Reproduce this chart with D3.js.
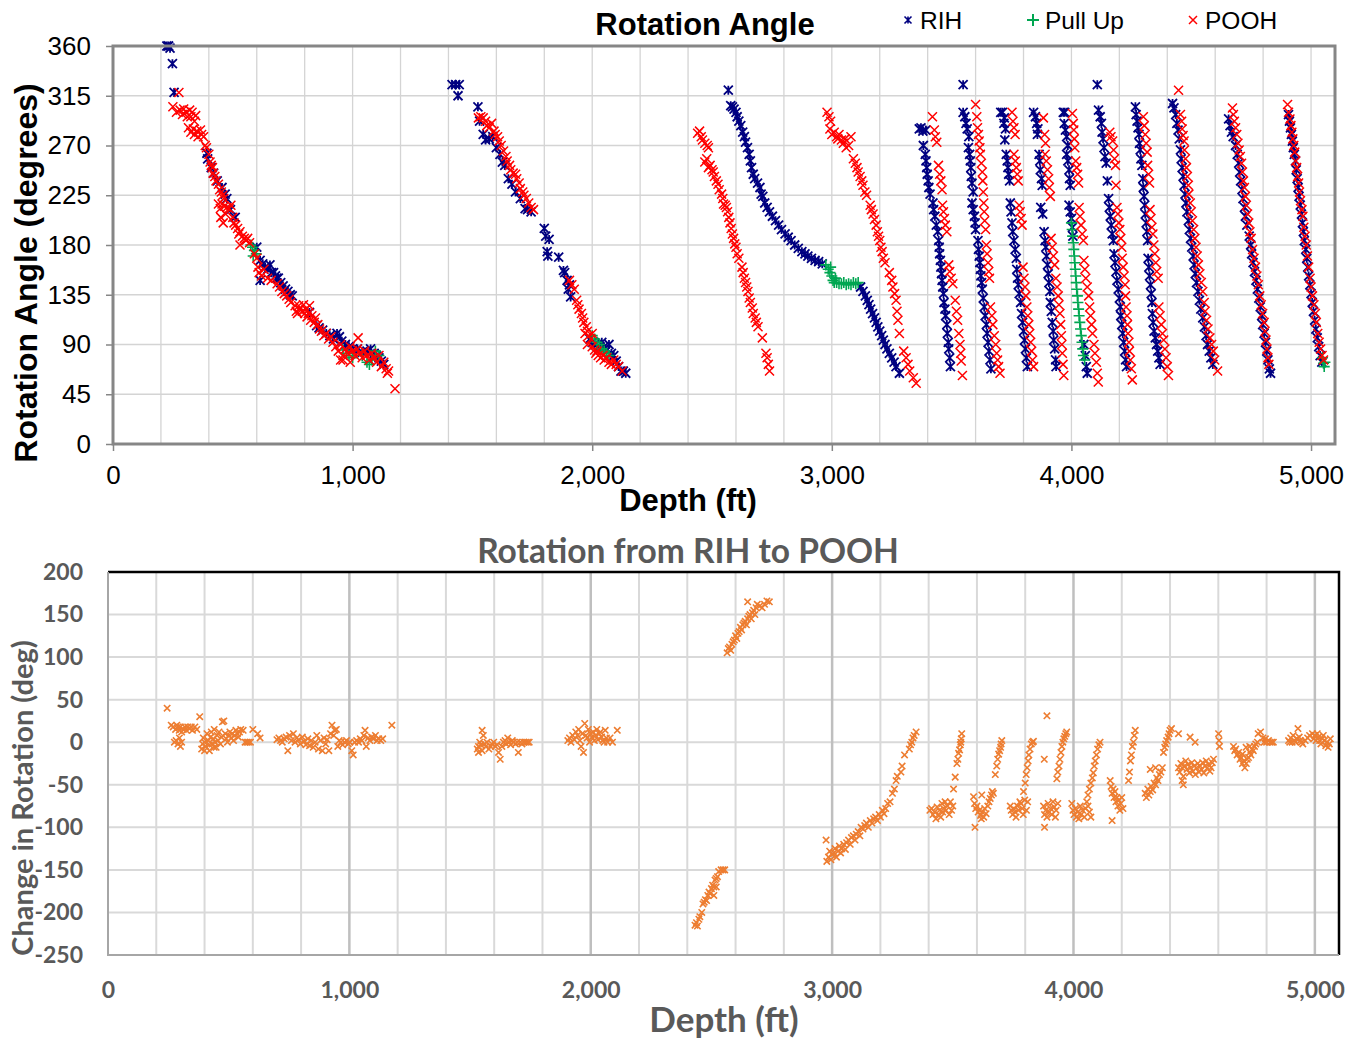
<!DOCTYPE html>
<html>
<head>
<meta charset="utf-8">
<script src="https://cdn.jsdelivr.net/npm/d3@7"></script>
<style>
  body { margin: 0; background: #fff; }
  svg { display: block; }
</style>
</head>
<body>
<svg id="my_svg"></svg>
<script>
const width = 1361;
const height = 1040;

// ---------- top chart: rotation angle (depth ft, angle deg) ----------
const depthTicks = [0, 1000, 2000, 3000, 4000, 5000];
const angleTicks = [0, 45, 90, 135, 180, 225, 270, 315, 360];
const changeTicks = [-250, -200, -150, -100, -50, 0, 50, 100, 150, 200];

const rihFirst = [
  [225,360],[232,360],[238,358],[248,344],[255,318],
  [392,263],[395,258],[410,250],[420,245],[435,238],[455,232],[468,226],[475,222],[490,212],[510,205],
  [600,178],[614,166],[625,163],[635,160],[645,158],[655,162],[662,155],[670,155],[678,152],[684,150],
  [690,150],[700,146],[710,143],[720,140],[730,138],[740,135],[748,134],[614,148],
  [820,119],[850,107],[860,105],[875,103],[890,100],[905,98],[920,95],[935,100],[945,97],[955,93],
  [970,90],[985,88],[1000,86],[1020,86],[1040,83],[1060,84],[1075,86],[1090,82],[1100,80],[1110,78],
  [1120,75],[1130,72]
];
const rihSecond = [
  [1415,325],[1430,325],[1445,325],[1440,315],[1523,305],[1530,292],[1545,280],[1555,275],[1570,276],
  [1585,278],[1600,268],[1615,262],[1625,255],[1635,252],[1650,240],[1665,235],[1680,228],[1700,222],
  [1720,213],[1730,212],[1745,210],[1800,195],[1806,188],[1820,185],[1812,174],[1815,170],[1860,169],
  [1880,157],[1885,155],[1895,148],[1905,144],[1900,140],[1910,133],[1990,95],[2000,92],[2010,90],
  [2030,88],[2040,92],[2050,88],[2060,85],[2070,90],[2080,82],[2090,80],[2100,75],[2110,70],[2120,66],
  [2130,66],[2140,64]
];
const rihThird = [
  [2568,320],[2578,306],[2585,305],[2592,303],[2600,300],[2605,296],[2612,292],[2620,288],[2628,282],
  [2635,278],[2640,273],[2648,268],[2655,262],[2660,256],[2665,250],[2672,244],[2678,240],[2690,236],
  [2700,232],[2705,226],[2712,224],[2720,218],[2730,214],[2740,210],[2752,206],[2765,202],[2778,198],
  [2790,194],[2805,190],[2818,187],[2830,184],[2845,180],[2860,177],[2875,174],[2888,172],[2900,170],
  [2915,168],[2930,166],[2945,165],[2960,163],[3120,142],[3130,138],[3140,134],[3148,130],[3155,126],
  [3162,122],[3170,118],[3178,114],[3185,110],[3192,106],[3200,102],[3208,98],[3215,94],[3222,90],
  [3230,86],[3240,82],[3250,78],[3260,74],[3268,70],[3282,64]
];
const rihCycles = [
  [3365,285],[3372,286],[3380,283],[3392,284],[3382,270],[3390,262],[3393,256],[3396,250],[3398,244],
  [3402,238],[3405,232],[3410,226],[3422,218],[3425,212],[3430,206],[3436,198],[3442,192],[3446,184],
  [3448,178],[3450,172],[3453,166],[3455,160],[3458,154],[3460,148],[3463,142],[3466,136],[3468,128],
  [3472,122],[3475,116],[3480,108],[3482,100],[3486,92],[3488,86],[3492,78],[3495,70],
  [3548,325],[4108,325],
  [3548,300],[3555,296],[3560,290],[3565,285],[3572,278],[3570,268],[3575,262],[3578,256],[3580,250],
  [3582,242],[3585,236],[3590,228],[3585,218],[3590,212],[3595,206],[3598,200],[3600,194],[3610,184],
  [3612,176],[3615,170],[3618,164],[3620,158],[3622,152],[3625,146],[3628,140],[3632,132],[3636,124],
  [3640,116],[3645,108],[3648,100],[3652,92],[3656,84],[3660,76],[3664,68],
  [3705,300],[3712,300],[3720,295],[3718,290],[3725,285],[3722,275],[3728,262],[3732,256],[3735,250],
  [3738,244],[3742,238],[3745,218],[3748,210],[3752,200],[3755,192],[3760,184],[3765,176],[3770,168],
  [3772,158],[3775,150],[3778,144],[3782,136],[3788,128],[3792,118],[3796,110],[3800,102],[3804,94],
  [3808,86],[3812,78],[3816,70],
  [3842,300],[3850,296],[3855,290],[3860,285],[3858,280],[3865,262],[3868,256],[3870,248],[3875,240],
  [3878,234],[3872,214],[3880,208],[3886,192],[3890,184],[3893,178],[3896,170],[3900,162],[3903,154],
  [3906,146],[3910,138],[3912,128],[3916,120],[3920,110],[3924,102],[3926,94],[3930,86],[3934,76],
  [3936,70],
  [3966,300],[3972,300],[3970,290],[3975,284],[3980,278],[3985,270],[3980,262],[3985,256],[3990,248],
  [3992,240],[3995,234],[3990,216],[3995,210],[4000,204],[4004,196],[4006,188],[4052,90],[4058,80],
  [4062,70],[4066,64],
  [4113,302],[4120,296],[4125,290],[4128,282],[4132,276],[4136,268],[4140,260],[4145,254],[4150,238],
  [4155,222],[4158,214],[4162,206],[4166,198],[4170,190],[4175,184],[4178,172],[4182,164],[4186,156],
  [4190,148],[4195,140],[4200,132],[4204,124],[4206,116],[4210,108],[4214,100],[4218,92],[4222,84],
  [4226,76],[4230,70],
  [4267,305],[4270,298],[4274,292],[4278,286],[4282,280],[4284,272],[4287,266],[4290,258],[4294,252],
  [4298,240],[4300,232],[4303,224],[4306,216],[4308,208],[4312,200],[4315,192],[4318,184],[4320,168],
  [4323,160],[4326,152],[4330,144],[4333,136],[4336,128],[4338,118],[4341,110],[4345,102],[4350,96],
  [4355,90],[4360,84],[4365,78],[4370,72],
  [4422,308],[4428,304],[4435,298],[4440,290],[4445,284],[4450,276],[4455,266],[4458,258],[4462,250],
  [4466,242],[4470,234],[4474,226],[4478,218],[4482,210],[4488,202],[4492,194],[4497,186],[4502,178],
  [4508,170],[4512,162],[4517,154],[4522,146],[4528,138],[4534,130],[4540,122],[4548,114],[4555,106],
  [4562,98],[4568,90],[4575,84],[4582,78],[4590,72],
  [4656,294],[4662,288],[4668,282],[4675,278],[4685,270],[4692,262],[4698,254],[4702,246],[4706,238],
  [4712,230],[4716,222],[4722,214],[4726,206],[4732,198],[4742,188],[4748,180],[4752,172],[4758,164],
  [4764,156],[4770,148],[4776,140],[4782,132],[4788,124],[4794,116],[4798,108],[4804,100],[4810,92],
  [4815,84],[4820,76],[4826,68],[4831,64],
  [4906,298],[4910,292],[4914,286],[4918,280],[4922,274],[4926,268],[4930,262],[4935,256],[4938,248],
  [4942,240],[4946,232],[4950,224],[4955,216],[4960,208],[4964,200],[4968,192],[4972,184],[4978,176],
  [4982,168],[4986,160],[4990,152],[4995,144],[5000,136],[5005,128],[5010,120],[5015,112],[5020,104],
  [5026,96],[5032,88],[5038,80],[5045,74]
];

const pullUpPoints = [
  [575,180],[582,178],[590,175],[598,172],[585,170],[960,85],[975,82],[985,80],[1000,78],[1040,80],
  [1060,74],[1070,72],[1080,76],[1095,84],[1110,80],
  [2000,98],[2010,95],[2020,92],[2030,90],[2040,86],[2050,84],[2060,82],[2070,80],
  [2975,162],[2985,158],[2992,155],[3000,152],[3005,148],[3010,146],[3020,146],[3030,145],[3040,145],
  [3050,146],[3060,144],[3070,145],[3080,144],[3090,146],[3100,145],[3110,146],[2995,160],[3015,150],
  [4000,200],[4003,194],[4005,188],[4008,182],[4010,176],[4012,170],[4014,164],[4016,158],[4018,152],
  [4020,146],[4022,140],[4025,134],[4027,128],[4030,122],[4032,116],[4035,110],[4038,104],[4041,98],
  [4044,92],[4047,86],[4050,80],[4055,76],
  [5048,78],[5052,73],[5055,70],[5058,74]
];

const poohFirst = [
  [250,305],[275,318],[265,300],[280,302],[290,298],[295,303],[305,300],[310,296],[320,302],[325,296],
  [330,300],[340,292],[345,297],[315,286],[325,282],[335,285],[340,280],[350,283],[355,278],[365,284],
  [370,280],[378,278],[385,270],[390,268],[400,262],[405,255],[410,252],[415,250],[418,245],[425,242],
  [430,238],[440,235],[445,230],[452,228],[458,225],[462,222],[440,217],[448,213],[455,217],[465,215],
  [475,214],[485,213],[492,216],[450,205],[460,200],[470,208],[500,205],[505,200],[512,198],[520,195],
  [525,190],[530,192],[540,188],[548,186],[555,184],[562,186],[570,182],[530,180],[590,172],[600,168],
  [605,160],[610,155],[620,152],[630,158],[645,150],[660,148],[685,145],[695,142],[705,138],[715,136],
  [725,134],[735,131],[742,128],[760,125],[765,120],[770,118],[775,125],[780,122],[790,120],[795,126],
  [800,118],[805,122],[810,115],[815,118],[820,125],[825,112],[830,116],[840,110],[845,114],[855,108],
  [862,104],[870,102],[880,98],[890,100],[900,95],[910,97],[918,92],[930,88],[940,84],[950,90],
  [960,80],[970,86],[980,82],[990,88],[1000,84],[1010,80],[1020,86],[1030,82],[1040,78],[1050,84],
  [1060,80],[1070,76],[1080,82],[1090,78],[1100,74],[1110,80],[1120,70],[1130,74],[1140,68],[1145,64],
  [1150,66],[1023,96],[1177,50],[950,76],[960,76],[990,74]
];
const poohSecond = [
  [1525,295],[1535,296],[1545,295],[1555,292],[1560,288],[1570,286],[1580,290],[1590,283],[1595,280],
  [1605,278],[1612,274],[1620,270],[1630,265],[1640,260],[1645,256],[1655,252],[1660,248],[1670,245],
  [1680,244],[1685,240],[1695,236],[1700,231],[1710,228],[1715,225],[1725,222],[1735,218],[1745,214],
  [1755,212],[1905,148],[1915,144],[1925,140],[1935,130],[1940,126],[1945,122],[1955,118],[1960,114],
  [1965,110],[1975,106],[1980,102],[1985,98],[1995,95],[1980,90],[2000,88],[2010,85],[2015,82],
  [2020,84],[2025,80],[2035,78],[2045,80],[2050,76],[2060,78],[2070,74],[2080,72],[2090,76],[2100,72],
  [2110,70],[2125,66],[2000,100],[1970,100]
];
const poohThird = [
  [2440,281],[2448,283],[2455,278],[2460,275],[2470,272],[2480,270],[2485,268],[2470,255],[2478,258],
  [2485,250],[2492,252],[2500,248],[2505,246],[2510,242],[2518,238],[2525,235],[2530,230],[2540,226],
  [2545,222],[2548,217],[2555,216],[2560,214],[2565,210],[2570,205],[2575,200],[2580,195],[2585,190],
  [2590,186],[2595,181],[2600,178],[2605,172],[2612,168],[2625,160],[2630,155],[2635,150],[2640,146],
  [2645,142],[2650,138],[2655,132],[2660,128],[2668,123],[2672,118],[2680,114],[2685,110],[2692,106],
  [2710,96],[2725,82],[2730,78],[2735,72],[2740,66],
  [2980,300],[2988,296],[2995,292],[2992,285],[3000,280],[3010,282],[3020,278],[3025,276],[3030,280],
  [3040,275],[3048,272],[3055,276],[3060,268],[3070,270],[3080,278],[3090,258],[3098,254],[3105,250],
  [3110,246],[3118,242],[3125,238],[3130,234],[3138,228],[3145,225],[3160,216],[3165,212],[3172,208],
  [3178,203],[3185,198],[3190,192],[3195,188],[3200,184],[3205,178],[3210,174],[3215,168],[3222,164],
  [3240,155],[3250,148],[3255,142],[3262,136],[3268,130],[3272,120],[3276,112],[3282,100],[3300,84],
  [3310,78],[3318,72],[3325,66],[3340,60],[3352,55]
];
const poohCycles = [
  [3420,296],[3428,284],[3432,278],[3438,273],[3445,252],[3450,244],[3455,238],[3460,230],[3462,216],
  [3466,210],[3470,204],[3474,198],[3480,192],[3488,162],[3492,156],[3498,150],[3505,145],[3515,130],
  [3520,120],[3525,112],[3530,100],[3535,90],[3538,82],[3540,75],[3545,62],
  [3600,307],[3605,296],[3608,286],[3612,280],[3615,274],[3618,268],[3620,262],[3624,254],[3628,246],
  [3630,238],[3632,228],[3634,218],[3636,210],[3638,202],[3642,194],[3645,180],[3648,172],[3652,164],
  [3655,156],[3658,150],[3662,124],[3668,116],[3672,108],[3678,98],[3684,90],[3688,82],[3692,76],
  [3696,70],[3702,64],
  [3752,300],[3756,292],[3760,286],[3765,280],[3760,262],[3766,256],[3770,250],[3774,244],[3778,238],
  [3782,216],[3786,210],[3790,204],[3794,198],[3798,160],[3802,150],[3806,142],[3810,134],[3814,124],
  [3818,116],[3822,108],[3826,100],[3830,92],[3834,84],[3838,76],[3842,70],
  [3883,295],[3888,280],[3892,272],[3890,262],[3895,256],[3900,248],[3905,240],[3908,232],[3912,224],
  [3915,186],[3920,178],[3925,170],[3930,162],[3935,150],[3940,142],[3945,134],[3948,126],[3952,118],
  [3955,108],[3958,98],[3960,90],[3962,82],[3965,72],[3968,62],
  [4004,299],[4008,290],[4010,284],[4012,276],[4014,268],[4018,256],[4022,250],[4026,244],[4030,236],
  [4032,214],[4036,206],[4040,198],[4045,190],[4050,184],[4052,166],[4056,158],[4060,150],[4066,142],
  [4072,134],[4076,124],[4080,116],[4084,108],[4088,100],[4094,90],[4098,82],[4104,74],[4108,64],
  [4112,56],
  [4160,282],[4165,278],[4172,274],[4176,266],[4180,258],[4184,252],[4186,234],[4190,214],[4194,208],
  [4198,200],[4202,194],[4206,186],[4210,178],[4212,168],[4216,160],[4220,152],[4224,144],[4226,134],
  [4228,124],[4232,116],[4234,108],[4236,100],[4240,92],[4242,84],[4246,76],[4250,68],[4254,58],
  [4300,296],[4304,288],[4308,280],[4312,272],[4316,264],[4318,252],[4322,244],[4326,236],[4328,212],
  [4332,204],[4336,196],[4340,190],[4344,180],[4348,172],[4352,164],[4356,156],[4362,150],[4365,124],
  [4370,116],[4375,108],[4380,100],[4385,94],[4390,86],[4395,78],[4400,70],[4405,62],
  [4447,320],[4455,298],[4460,292],[4462,285],[4466,279],[4470,274],[4472,266],[4476,258],[4480,250],
  [4484,242],[4488,234],[4490,226],[4496,218],[4500,210],[4505,202],[4510,194],[4515,186],[4520,178],
  [4525,170],[4530,162],[4536,154],[4542,146],[4548,138],[4554,128],[4558,120],[4564,112],[4570,104],
  [4578,96],[4585,90],[4592,84],[4598,76],[4610,66],
  [4672,304],[4676,298],[4680,292],[4685,286],[4690,280],[4695,272],[4700,266],[4705,260],[4710,254],
  [4714,246],[4718,238],[4722,232],[4726,224],[4730,216],[4735,208],[4740,200],[4745,192],[4750,186],
  [4756,176],[4762,168],[4768,160],[4774,152],[4780,144],[4786,134],[4792,126],[4798,118],[4804,110],
  [4808,102],[4812,94],[4816,86],[4820,78],[4824,72],
  [4902,307],[4906,300],[4912,294],[4916,288],[4920,282],[4924,276],[4928,270],[4932,264],[4936,256],
  [4940,250],[4944,242],[4948,236],[4952,228],[4956,220],[4962,212],[4966,206],[4970,196],[4975,188],
  [4980,180],[4985,170],[4990,160],[4996,150],[5000,142],[5006,134],[5012,126],[5018,118],[5022,110],
  [5028,100],[5034,92],[5040,86],[5046,80],[5052,76]
];

// ---------- bottom chart: change in rotation (depth ft, deg) ----------
const changeShallow = [
  [245,40],[262,20],[270,18],[280,15],[285,20],[290,18],[295,14],[300,18],[305,12],[312,15],[318,18],
  [325,14],[330,18],[338,16],[345,18],[350,14],[360,18],[368,15],[380,30],[275,0],[282,2],[290,-2],
  [296,5],[300,-5],[305,0],[388,-8],[392,-2],[395,5],[400,0],[405,-5],[410,10],[415,2],[420,-3],
  [425,6],[428,12],[432,-2],[436,4],[440,15],[444,0],[448,-6],[452,8],[456,2],[460,12],[466,-2],
  [470,6],[474,24],[480,25],[486,10],[490,4],[495,0],[500,8],[505,12],[510,5],[515,10],[520,2],
  [525,8],[530,14],[536,10],[540,6],[545,12],[550,15],[560,14],[568,0],[575,0],[582,0],[590,0],
  [600,15],[620,10],[630,5],[420,-10],[400,-10],[440,-6],
  [700,3],[708,5],[715,2],[722,0],[730,4],[738,6],[745,-10],[752,8],[760,2],[768,10],[775,0],[782,5],
  [790,3],[797,-2],[805,6],[812,1],[820,-3],[828,4],[835,-4],[842,2],[850,-6],[858,0],[865,8],[872,-8],
  [880,2],[888,-10],[895,5],[902,-2],[908,3],[915,-10],[922,10],[928,20],[935,8],[940,14],[946,15],
  [952,-5],[958,2],[965,0],[972,-3],[980,0],[988,2],[995,-2],[1002,0],[1010,-10],[1016,-15],[1022,0],
  [1030,2],[1038,0],[1045,4],[1052,2],[1060,8],[1065,14],[1070,-5],[1078,5],[1085,2],[1092,6],[1100,4],
  [1108,8],[1115,2],[1122,4],[1130,2],[1138,4],[1176,20]
];
const changeMiddle = [
  [1530,-8],[1535,-5],[1540,0],[1545,-3],[1550,14],[1555,8],[1560,-2],[1565,-5],[1570,0],[1578,-8],
  [1585,-5],[1590,-2],[1598,0],[1605,-5],[1612,-3],[1618,-12],[1625,-20],[1632,-5],[1638,0],[1645,2],
  [1650,-2],[1656,5],[1662,0],[1668,-3],[1675,2],[1680,0],[1688,-2],[1695,0],[1700,-12],[1708,0],
  [1715,-2],[1722,0],[1730,0],[1738,0],[1745,0],[1535,-12],[1550,-10],
  [1905,2],[1912,5],[1918,0],[1925,8],[1932,3],[1938,12],[1945,8],[1950,15],[1955,2],[1960,-5],
  [1965,10],[1970,-12],[1975,22],[1980,8],[1985,5],[1990,15],[1995,0],[2000,10],[2005,6],[2010,12],
  [2015,2],[2020,8],[2025,15],[2030,3],[2035,10],[2040,12],[2045,6],[2050,2],[2055,0],[2060,14],
  [2065,5],[2070,0],[2080,5],[2090,0],[2110,14],
  [2432,-215],[2438,-212],[2442,-216],[2448,-208],[2452,-205],[2460,-200],[2465,-190],[2470,-188],
  [2475,-185],[2480,-186],[2485,-180],[2490,-176],[2495,-178],[2500,-172],[2505,-168],[2510,-170],
  [2515,-162],[2520,-160],[2525,-158],[2530,-152],[2540,-150],[2548,-150],[2555,-150],[2520,-170],
  [2510,-180],
  [2565,105],[2570,110],[2575,112],[2580,108],[2585,115],[2590,118],[2595,120],[2600,125],[2605,122],
  [2610,128],[2615,130],[2620,135],[2625,132],[2630,138],[2635,140],[2640,142],[2645,138],[2650,145],
  [2655,148],[2660,150],[2665,145],[2670,152],[2675,155],[2680,150],[2685,158],[2690,162],[2700,160],
  [2710,158],[2720,162],[2730,166],[2740,165],[2650,165]
];
const changeDeep = [
  [2975,-115],[2978,-140],[2985,-135],[2990,-128],[2995,-138],[3000,-132],[3008,-130],[3012,-125],
  [3018,-135],[3025,-128],[3030,-122],[3035,-130],[3040,-125],[3048,-120],[3055,-126],[3060,-118],
  [3068,-115],[3075,-120],[3080,-112],[3088,-110],[3095,-115],[3100,-108],[3108,-105],[3115,-110],
  [3120,-100],[3128,-102],[3135,-98],[3142,-95],[3150,-100],[3158,-92],[3165,-95],[3172,-90],
  [3180,-88],[3188,-92],[3195,-85],[3200,-88],[3208,-80],[3215,-84],[3222,-78],[3230,-72],[3240,-70],
  [3250,-60],[3258,-55],[3265,-45],[3270,-40],[3285,-35],[3290,-28],[3300,-15],[3320,-8],[3325,-3],
  [3330,0],[3335,5],[3340,8],[3348,12],
  [3405,-80],[3412,-78],[3418,-85],[3425,-82],[3430,-90],[3435,-76],[3440,-85],[3445,-80],[3450,-88],
  [3455,-72],[3458,-82],[3462,-78],[3468,-70],[3472,-80],[3478,-75],[3485,-85],[3490,-70],[3495,-80],
  [3500,-75],[3503,-55],[3510,-41],[3517,-25],[3521,-20],[3524,-13],[3528,-9],[3531,-3],[3533,0],
  [3535,4],[3537,10],
  [3586,-64],[3590,-72],[3595,-78],[3600,-75],[3605,-82],[3610,-80],[3615,-86],[3618,-90],[3622,-82],
  [3628,-88],[3632,-78],[3638,-84],[3645,-75],[3650,-70],[3655,-66],[3660,-62],[3664,-58],[3668,-60],
  [3592,-100],[3620,-62],[3676,-38],[3682,-28],[3686,-20],[3690,-14],[3694,-10],[3698,-6],[3700,-2],
  [3703,2],
  [3738,-75],[3742,-80],[3748,-85],[3752,-78],[3758,-82],[3762,-88],[3768,-75],[3772,-80],[3778,-70],
  [3782,-72],[3788,-78],[3792,-85],[3798,-68],[3805,-80],[3810,-70],[3793,-58],[3800,-48],[3804,-38],
  [3808,-30],[3812,-22],[3815,-15],[3820,-8],[3825,-2],[3830,0],[3834,1],[3879,-20],[3890,31],
  [3876,-75],[3880,-85],[3885,-80],[3890,-88],[3895,-72],[3900,-82],[3905,-78],[3910,-85],[3915,-70],
  [3920,-76],[3928,-80],[3935,-72],[3880,-100],[3925,-88],[3931,-43],[3935,-35],[3940,-28],[3944,-20],
  [3948,-12],[3952,-5],[3956,0],[3960,4],[3964,7],[3968,10],[3972,12],
  [3993,-72],[3998,-80],[4002,-85],[4008,-78],[4012,-88],[4018,-82],[4022,-90],[4028,-75],[4032,-85],
  [4038,-80],[4045,-88],[4050,-78],[4055,-70],[4060,-75],[4066,-82],[4072,-88],[4060,-62],[4066,-55],
  [4072,-48],[4078,-42],[4082,-36],[4086,-28],[4090,-22],[4095,-15],[4100,-8],[4105,-3],[4110,0],
  [4152,-45],[4156,-52],[4160,-60],[4164,-55],[4168,-65],[4172,-58],[4176,-70],[4180,-65],[4184,-75],
  [4188,-68],[4192,-80],[4196,-72],[4200,-65],[4160,-92],[4205,-78],[4228,-45],[4232,-35],[4236,-22],
  [4240,-15],[4244,-5],[4248,0],[4252,8],[4256,14],
  [4297,-60],[4302,-65],[4308,-55],[4312,-62],[4318,-58],[4322,-52],[4328,-56],[4334,-48],[4340,-50],
  [4345,-42],[4350,-45],[4356,-38],[4362,-35],[4318,-32],[4340,-30],[4368,-30],[4373,-12],[4378,-6],
  [4382,-2],[4386,2],[4392,6],[4396,10],[4400,14],[4406,16],[4435,10],[4483,6],[4504,0],
  [4435,-30],[4440,-35],[4445,-25],[4450,-30],[4455,-40],[4460,-28],[4465,-22],[4470,-32],[4475,-26],
  [4480,-36],[4485,-30],[4490,-24],[4495,-34],[4500,-28],[4505,-38],[4510,-30],[4515,-25],[4520,-35],
  [4525,-28],[4530,-32],[4535,-24],[4540,-36],[4545,-28],[4550,-22],[4555,-30],[4560,-26],[4565,-34],
  [4570,-30],[4575,-24],[4580,-20],[4455,-50],[4450,-45],[4601,10],[4603,2],[4605,-5],
  [4663,-5],[4668,-10],[4672,-8],[4678,-15],[4684,-12],[4690,-20],[4695,-18],[4700,-25],[4705,-22],
  [4710,-30],[4716,-25],[4720,-20],[4725,-18],[4730,-12],[4735,-15],[4740,-8],[4745,-10],[4750,-5],
  [4755,-2],[4762,0],[4700,-14],[4715,-6],[4730,-5],[4765,10],[4775,12],[4785,5],[4790,0],[4795,4],
  [4800,0],[4808,2],[4815,0],[4822,0],[4828,0],
  [4891,2],[4896,0],[4900,5],[4906,0],[4910,8],[4915,2],[4920,0],[4925,4],[4930,16],[4935,6],
  [4940,2],[4945,0],[4950,-2],[4960,2],[4970,5],[4978,8],[4990,10],[4995,4],[5000,8],[5005,2],
  [5010,10],[5015,6],[5020,2],[5025,-2],[5030,4],[5035,8],[5040,2],[5045,-4],[5050,0],[5055,-6],
  [5060,-2],[5064,4]
];

const rih = rihFirst.concat(rihSecond, rihThird, rihCycles);
const pooh = poohFirst.concat(poohSecond, poohThird, poohCycles);
const change = changeShallow.concat(changeMiddle, changeDeep);

const svg = d3.select('#my_svg')
    .attr('width', width)
    .attr('height', height);

// marker shapes
const crossPath = s => `M${-s},${-s}L${s},${s}M${-s},${s}L${s},${-s}`;
const starPath = s => crossPath(s) + `M0,${-s}V${s}`;
const plusPath = s => `M${-s},0H${s}M0,${-s}V${s}`;

// ================= top chart =================
const topFont = '"Liberation Sans", Arial, sans-serif';
const x1 = d3.scaleLinear().domain([0, 5100]).range([113, 1335]);
const y1 = d3.scaleLinear().domain([0, 360]).range([444, 46]);

const top_g = svg.append('g').attr('id', 'top_g');

top_g.append('g').selectAll('line')
    .data(d3.range(200, 5100, 200))
    .enter().append('line')
    .attr('x1', d => x1(d)).attr('x2', d => x1(d))
    .attr('y1', y1(0)).attr('y2', y1(360))
    .attr('stroke', '#d4d4d4').attr('stroke-width', 1.3);

top_g.append('g').selectAll('line')
    .data(angleTicks.slice(1, -1))
    .enter().append('line')
    .attr('x1', x1(0)).attr('x2', x1(5100))
    .attr('y1', d => y1(d)).attr('y2', d => y1(d))
    .attr('stroke', '#d4d4d4').attr('stroke-width', 1.3);

function drawSeries(g, data, path, color, sx, sy, sw) {
    g.append('g').selectAll('path')
        .data(data)
        .enter().append('path')
        .attr('transform', d => `translate(${sx(d[0])},${sy(d[1])})`)
        .attr('d', path)
        .attr('fill', 'none')
        .attr('stroke', color)
        .attr('stroke-width', sw);
}

drawSeries(top_g, rih, starPath(4.5), '#000080', x1, y1, 1.8);
drawSeries(top_g, pullUpPoints, plusPath(5.5), '#00A651', x1, y1, 1.6);
drawSeries(top_g, pooh, crossPath(4.5), '#FF0000', x1, y1, 1.5);

top_g.append('rect')
    .attr('x', x1(0)).attr('y', y1(360))
    .attr('width', x1(5100) - x1(0)).attr('height', y1(0) - y1(360))
    .attr('fill', 'none').attr('stroke', '#868686').attr('stroke-width', 3);

const yAxis1 = top_g.append('g')
    .attr('transform', `translate(${x1(0)},0)`)
    .call(d3.axisLeft(y1).tickValues(angleTicks).tickSize(7).tickPadding(15));
const xAxis1 = top_g.append('g')
    .attr('transform', `translate(0,${y1(0)})`)
    .call(d3.axisBottom(x1).tickValues(depthTicks).tickFormat(d3.format(',')).tickSize(7).tickPadding(15));
[yAxis1, xAxis1].forEach(ax => {
    ax.select('.domain').remove();
    ax.selectAll('line').attr('stroke', '#868686').attr('stroke-width', 1.5);
    ax.selectAll('text').attr('font-family', topFont).attr('font-size', 26).attr('fill', '#000');
});

top_g.append('text')
    .attr('x', 705).attr('y', 35)
    .attr('text-anchor', 'middle')
    .attr('font-family', topFont).attr('font-weight', 'bold').attr('font-size', 31)
    .text('Rotation Angle');

top_g.append('text')
    .attr('x', 688).attr('y', 511)
    .attr('text-anchor', 'middle')
    .attr('font-family', topFont).attr('font-weight', 'bold').attr('font-size', 31)
    .text('Depth (ft)');

top_g.append('text')
    .attr('transform', 'translate(37,273) rotate(-90)')
    .attr('text-anchor', 'middle')
    .attr('font-family', topFont).attr('font-weight', 'bold').attr('font-size', 32)
    .text('Rotation Angle (degrees)');

// legend
const legendItems = [
    {name: 'RIH', path: starPath(3.5), color: '#000080', x: 908, sw: 1.6},
    {name: 'Pull Up', path: plusPath(6), color: '#00A651', x: 1033, sw: 2},
    {name: 'POOH', path: crossPath(4), color: '#FF0000', x: 1193, sw: 1.5}
];
const legend = top_g.append('g').selectAll('g')
    .data(legendItems)
    .enter().append('g')
    .attr('transform', d => `translate(${d.x},20)`);
legend.append('path')
    .attr('d', d => d.path)
    .attr('fill', 'none')
    .attr('stroke', d => d.color)
    .attr('stroke-width', d => d.sw);
legend.append('text')
    .attr('x', 12).attr('y', 9)
    .attr('font-family', topFont).attr('font-size', 24.5)
    .text(d => d.name);

// ================= bottom chart =================
const botFont = 'Lato, "Open Sans", sans-serif';
const x2 = d3.scaleLinear().domain([0, 5100]).range([108, 1339]);
const y2 = d3.scaleLinear().domain([-250, 200]).range([955, 572]);

const bot_g = svg.append('g').attr('id', 'bot_g');

bot_g.append('g').selectAll('line')
    .data(changeTicks.slice(1, -1))
    .enter().append('line')
    .attr('x1', x2(0)).attr('x2', x2(5100))
    .attr('y1', d => y2(d)).attr('y2', d => y2(d))
    .attr('stroke', '#d9d9d9').attr('stroke-width', 2);

bot_g.append('g').selectAll('line')
    .data(d3.range(200, 5100, 200))
    .enter().append('line')
    .attr('x1', d => x2(d)).attr('x2', d => x2(d))
    .attr('y1', y2(-250)).attr('y2', y2(200))
    .attr('stroke', d => d % 1000 === 0 ? '#bfbfbf' : '#d9d9d9')
    .attr('stroke-width', d => d % 1000 === 0 ? 2.5 : 2);

drawSeries(bot_g, change, crossPath(3.2), '#ED7D31', x2, y2, 1.6);

// frame: black top/right, grey axes left/bottom
bot_g.append('path')
    .attr('d', `M${x2(0)},${y2(200)}H${x2(5100)}V${y2(-250)}`)
    .attr('fill', 'none').attr('stroke', '#000').attr('stroke-width', 2.5);
bot_g.append('path')
    .attr('d', `M${x2(0)},${y2(200)}V${y2(-250)}H${x2(5100)}`)
    .attr('fill', 'none').attr('stroke', '#a6a6a6').attr('stroke-width', 2);

const yAxis2 = bot_g.append('g')
    .attr('transform', `translate(${x2(0)},0)`)
    .call(d3.axisLeft(y2).tickValues(changeTicks).tickFormat(d => String(d)).tickSize(0).tickPadding(25));
const xAxis2 = bot_g.append('g')
    .attr('transform', `translate(0,${y2(-250)})`)
    .call(d3.axisBottom(x2).tickValues(depthTicks).tickFormat(d3.format(',')).tickSize(0).tickPadding(27));
[yAxis2, xAxis2].forEach(ax => {
    ax.select('.domain').remove();
    ax.selectAll('text').attr('font-family', botFont).attr('font-weight', 'bold')
        .attr('font-size', 23).attr('fill', '#595959');
});

bot_g.append('text')
    .attr('x', 688).attr('y', 563)
    .attr('text-anchor', 'middle')
    .attr('font-family', botFont).attr('font-weight', 'bold').attr('font-size', 33.5)
    .attr('fill', '#595959')
    .text('Rotation from RIH to POOH');

bot_g.append('text')
    .attr('x', 724).attr('y', 1032)
    .attr('text-anchor', 'middle')
    .attr('font-family', botFont).attr('font-weight', 'bold').attr('font-size', 35)
    .attr('fill', '#595959')
    .text('Depth (ft)');

bot_g.append('text')
    .attr('transform', 'translate(33,798) rotate(-90)')
    .attr('text-anchor', 'middle')
    .attr('font-family', botFont).attr('font-weight', 'bold').attr('font-size', 29)
    .attr('fill', '#595959')
    .text('Change in Rotation (deg)');
</script>
</body>
</html>
